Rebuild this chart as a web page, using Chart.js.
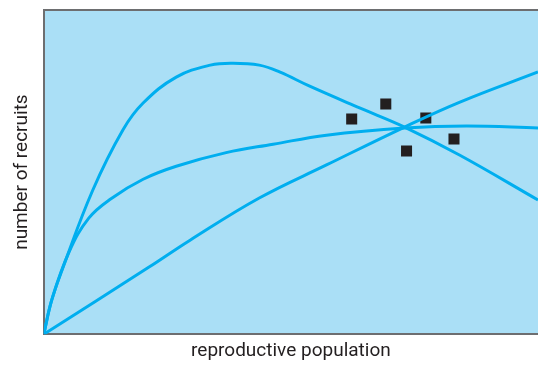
<!DOCTYPE html>
<html>
<head>
<meta charset="utf-8">
<script src="https://cdn.jsdelivr.net/npm/chart.js@4"></script>
<style>
  html, body { margin: 0; padding: 0; background: #fff; }
  #wrap { width: 538px; height: 365px; }
</style>
</head>
<body>
<div id="wrap"><canvas id="stockChart" width="538" height="365"></canvas></div>
<script>
// values (x: reproductive population, y: number of recruits, 0-100)
var rickerX = [0, 1.6, 3.7, 9.9, 16.0, 20.1, 26.8, 33.7, 38.3, 43.6, 47.7, 53.8, 63.9, 73.0, 84.2, 100];
var rickerY = [0, 10.5, 19.8, 44.4, 63.0, 71.3, 79.3, 83.0, 83.6, 83.0, 80.9, 76.5, 69.8, 63.9, 55.2, 41.4];

var bevHoltX = [0, 1.6, 5.1, 9.1, 13.6, 20.1, 26.8, 36.9, 46.4, 57.2, 73.0, 85.6, 100];
var bevHoltY = [0, 10.5, 25.3, 35.8, 41.8, 47.8, 51.8, 56.0, 58.6, 61.4, 63.6, 64.2, 63.6];

var replaceX = [0, 21.3, 29.6, 43.6, 57.2, 73.0, 84.2, 100];
var replaceY = [0, 20.7, 29.0, 42.0, 52.2, 63.9, 71.6, 80.9];

var obsX = [62.3, 69.2, 77.3, 83.0, 73.4];
var obsY = [66.4, 71.0, 66.7, 60.2, 56.5];

var curveColor = '#00aeef';
var plotBg = '#aadff6';

function toPoints(xs, ys) {
    var pts = [];
    for (var i = 0; i < xs.length; i++) {
        pts.push({ x: xs[i], y: ys[i] });
    }
    return pts;
}

function curve(xs, ys) {
    return {
        type: 'line',
        data: toPoints(xs, ys),
        borderColor: curveColor,
        borderWidth: 3,
        pointRadius: 0,
        fill: false,
        tension: 0.4
    };
}

// paint the plot area and its top edge
const plotArea = {
    id: 'plotArea',
    beforeDraw: function(chart) {
        var a = chart.chartArea;
        var ctx = chart.ctx;
        ctx.save();
        ctx.fillStyle = plotBg;
        ctx.fillRect(a.left, a.top, a.right - a.left, a.bottom - a.top);
        ctx.strokeStyle = '#6d6e70';
        ctx.lineWidth = 2;
        ctx.beginPath();
        ctx.moveTo(a.left, a.top);
        ctx.lineTo(a.right, a.top);
        ctx.stroke();
        ctx.restore();
    }
};

const ctx = document.getElementById('stockChart').getContext('2d');
new Chart(ctx, {
    type: 'scatter',
    data: {
        datasets: [
            curve(rickerX, rickerY),
            curve(bevHoltX, bevHoltY),
            curve(replaceX, replaceY),
            {
                type: 'scatter',
                data: toPoints(obsX, obsY),
                pointStyle: 'rect',
                pointRadius: 7.8,
                pointBackgroundColor: '#231f20',
                pointBorderWidth: 0,
                showLine: false
            }
        ]
    },
    options: {
        responsive: false,
        animation: false,
        layout: { autoPadding: false, padding: { top: 10, right: 0, left: 0, bottom: 0 } },
        plugins: {
            legend: { display: false },
            tooltip: { enabled: false }
        },
        scales: {
            x: {
                type: 'linear',
                min: 0,
                max: 100,
                ticks: { display: false },
                grid: { display: false, drawTicks: false },
                border: { display: true, color: '#6d6e70', width: 2 },
                title: {
                    display: true,
                    text: 'reproductive population',
                    color: '#231f20',
                    font: { family: 'Roboto, sans-serif', size: 19 },
                    padding: { top: 6, bottom: 2 }
                }
            },
            y: {
                type: 'linear',
                min: 0,
                max: 100,
                ticks: { display: false },
                grid: { display: false, drawTicks: false },
                border: { display: true, color: '#6d6e70', width: 2 },
                title: {
                    display: true,
                    text: 'number of recruits',
                    color: '#231f20',
                    font: { family: 'Roboto, sans-serif', size: 19 },
                    padding: { top: 11, bottom: 10 }
                }
            }
        }
    },
    plugins: [plotArea]
});
</script>
</body>
</html>
